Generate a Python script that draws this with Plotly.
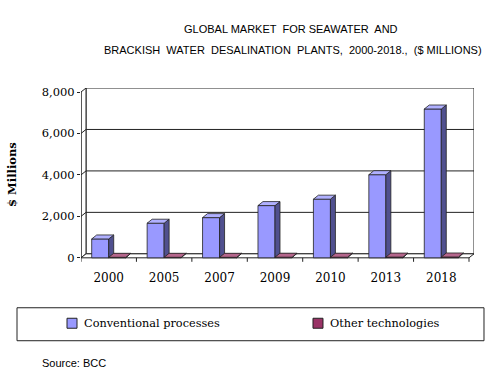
import plotly.graph_objects as go

# ---------------- data ----------------
years = ["2000", "2005", "2007", "2009", "2010", "2013", "2018"]
conventional = [910, 1670, 1940, 2520, 2830, 4010, 7180]
other_tech = [25, 25, 25, 30, 30, 35, 40]
y_ticks = [0, 2000, 4000, 6000, 8000]
series_names = ["Conventional processes", "Other technologies"]

# ---------------- style / geometry ----------------
W, H = 501, 376
L_PX, T_PX = 81, 88           # left of front axis, top of back wall
PX_PER_CAT = 55.43
PX_PER_UNIT_Y = 166 / 8000.0
DEPTH_PX_X, DEPTH_PX_Y = 5, 4
DX = DEPTH_PX_X / PX_PER_CAT
DY = DEPTH_PX_Y / PX_PER_UNIT_Y
Y_MAX = 8000
Y_MIN = -250
n = len(years)
x_lo, x_hi = -0.5, n - 0.5 + DX
y_lo, y_hi = Y_MIN, Y_MAX + DY
plot_w = (x_hi - x_lo) * PX_PER_CAT
plot_h = (y_hi - y_lo) * PX_PER_UNIT_Y
M_L = L_PX
M_R = W - L_PX - plot_w
M_T = T_PX
M_B = H - T_PX - plot_h

BAR_W = 0.307
colors_front = ["#9999FF", "#993366"]
colors_side = ["#50508F", "#5E1F40"]
colors_top = ["#B0B0FF", "#B5668C"]
LINE = "#222222"
SERIF = "DejaVu Serif"
SANS = "Liberation Sans"


def px_x(p):
    return (p - M_L) / plot_w


def px_y(p):
    return (H - M_B - p) / plot_h


fig = go.Figure()

# ---- back wall, side wall, floor, gridlines (shapes below traces) ----
shapes = []
shapes.append(dict(type="rect", xref="x", yref="y", x0=-0.5 + DX, x1=n - 0.5 + DX,
                   y0=DY, y1=Y_MAX + DY, line=dict(color=LINE, width=1),
                   fillcolor="white", layer="below"))
shapes.append(dict(type="path", xref="x", yref="y",
                   path=f"M{-0.5},{0} L{-0.5 + DX},{DY} L{-0.5 + DX},{Y_MAX + DY} L{-0.5},{Y_MAX} Z",
                   line=dict(color=LINE, width=1), fillcolor="white", layer="below"))
shapes.append(dict(type="path", xref="x", yref="y",
                   path=f"M{-0.5},{0} L{n - 0.5},{0} L{n - 0.5 + DX},{DY} L{-0.5 + DX},{DY} Z",
                   line=dict(color=LINE, width=1), fillcolor="white", layer="below"))
for v in y_ticks[1:-1]:
    shapes.append(dict(type="path", xref="x", yref="y",
                       path=f"M{-0.5},{v} L{-0.5 + DX},{v + DY} L{n - 0.5 + DX},{v + DY}",
                       line=dict(color=LINE, width=1), layer="below"))
# category boundary ticks on the floor front edge
for i in range(n + 1):
    shapes.append(dict(type="line", xref="x", yref="y", x0=i - 0.5, x1=i - 0.5,
                       y0=0, y1=-4 / PX_PER_UNIT_Y, line=dict(color=LINE, width=1)))
# front axis line
shapes.append(dict(type="line", xref="x", yref="y", x0=-0.5, x1=-0.5, y0=0, y1=Y_MAX,
                   line=dict(color=LINE, width=1)))

# ---- bars (front faces) ----
xs = list(range(n))
for s, vals in enumerate([conventional, other_tech]):
    fig.add_trace(go.Bar(
        x=xs, y=vals, width=BAR_W, offset=-BAR_W if s == 0 else 0,
        marker=dict(color=colors_front[s], line=dict(color=LINE, width=0.8)),
        name=series_names[s], showlegend=False, hoverinfo="skip"))

# ---- bar side / top faces ----
for s, vals in enumerate([conventional, other_tech]):
    for i, v in enumerate(vals):
        x0 = i - BAR_W if s == 0 else i
        x1 = x0 + BAR_W
        fig.add_trace(go.Scatter(
            x=[x1, x1 + DX, x1 + DX, x1, x1], y=[0, DY, v + DY, v, 0],
            mode="lines", fill="toself", fillcolor=colors_side[s],
            line=dict(color=LINE, width=0.8), showlegend=False, hoverinfo="skip"))
        fig.add_trace(go.Scatter(
            x=[x0, x1, x1 + DX, x0 + DX, x0], y=[v, v, v + DY, v + DY, v],
            mode="lines", fill="toself", fillcolor=colors_top[s],
            line=dict(color=LINE, width=0.8), showlegend=False, hoverinfo="skip"))

# ---- legend (manual) ----
shapes.append(dict(type="rect", xref="paper", yref="paper",
                   x0=px_x(17), x1=px_x(484), y0=px_y(341), y1=px_y(308),
                   line=dict(color=LINE, width=1), fillcolor="white"))
annotations = []
for s, (sx, tx) in enumerate([(67, 82), (313, 328)]):
    shapes.append(dict(type="rect", xref="paper", yref="paper",
                       x0=px_x(sx), x1=px_x(sx + 10), y0=px_y(328.5), y1=px_y(318.5),
                       line=dict(color=LINE, width=1), fillcolor=colors_front[s]))
    annotations.append(dict(xref="paper", yref="paper", x=px_x(tx), y=px_y(324),
                            xanchor="left", yanchor="middle", showarrow=False,
                            text=series_names[s],
                            font=dict(family=SERIF, size=11.3, color="black")))

# ---- titles & labels ----
annotations.append(dict(xref="paper", yref="paper", x=px_x(291), y=px_y(29),
                        xanchor="center", yanchor="middle", showarrow=False,
                        text="GLOBAL MARKET  FOR SEAWATER  AND",
                        font=dict(family=SANS, size=11, color="black")))
annotations.append(dict(xref="paper", yref="paper", x=px_x(293), y=px_y(50),
                        xanchor="center", yanchor="middle", showarrow=False,
                        text="BRACKISH  WATER  DESALINATION  PLANTS,  2000-2018.,  ($ MILLIONS)",
                        font=dict(family=SANS, size=11, color="black")))
annotations.append(dict(xref="paper", yref="paper", x=px_x(12), y=px_y(175),
                        xanchor="center", yanchor="middle", showarrow=False,
                        text="<b>$ Millions</b>", textangle=-90,
                        font=dict(family=SERIF, size=11.5, color="black")))
annotations.append(dict(xref="paper", yref="paper", x=px_x(40), y=px_y(363),
                        xanchor="left", yanchor="middle", showarrow=False,
                        text="Source: BCC",
                        font=dict(family=SANS, size=11, color="black")))

fig.update_layout(
    width=W, height=H,
    margin=dict(l=M_L, r=M_R, t=M_T, b=M_B, pad=0),
    paper_bgcolor="white", plot_bgcolor="white",
    barmode="overlay",
    showlegend=False,
    hovermode=False,
    shapes=shapes, annotations=annotations,
    xaxis=dict(range=[x_lo, x_hi], tickvals=xs, ticktext=years, ticks="",
               showgrid=False, zeroline=False, showline=False,
               tickfont=dict(family=SERIF, size=12, color="black"),
               ticklabelstandoff=6, fixedrange=True),
    yaxis=dict(range=[y_lo, y_hi], tickvals=y_ticks, tickformat=",", ticks="outside",
               ticklen=3, tickcolor=LINE, showgrid=False, zeroline=False, showline=False,
               tickfont=dict(family=SERIF, size=11.5, color="black"), fixedrange=True),
)

fig.write_html("out.html",
               config={"displayModeBar": False, "staticPlot": True},
               post_script="document.body.style.margin='0px';document.body.style.overflow='hidden';")
